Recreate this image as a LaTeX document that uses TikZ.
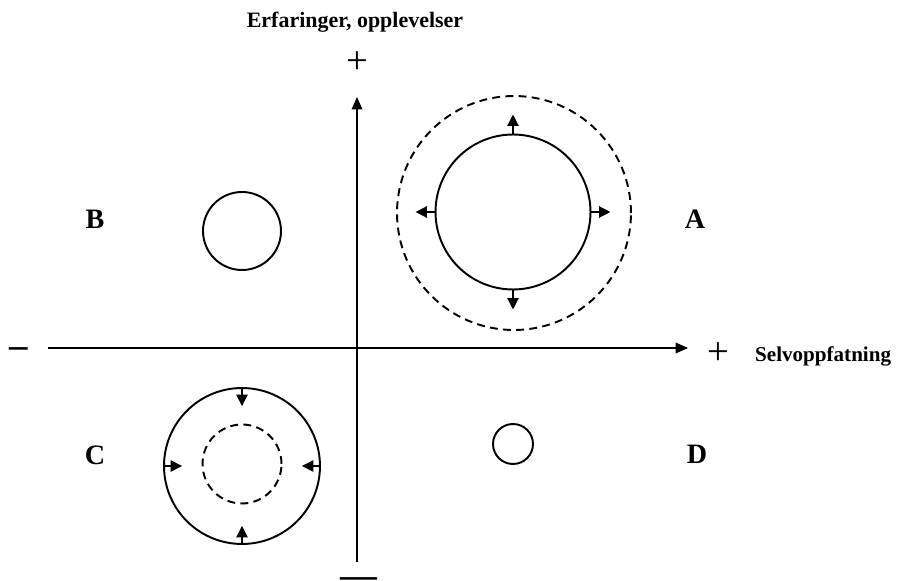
\documentclass[tikz,border=0pt]{standalone}
\usepackage{fontspec}
\setmainfont{Liberation Serif}
\usetikzlibrary{arrows.meta}

\begin{document}
\begin{tikzpicture}[x=0.02cm,y=-0.02cm,
  ring/.style={draw,circle,line width=1.1pt,inner sep=0pt},
  dashring/.style={ring,dash pattern=on 4.5pt off 3pt},
  axis/.style={-{Triangle[length=7pt,width=6pt]},line width=0.8pt},
  push/.style={-{Triangle[length=6.5pt,width=6.5pt]},line width=0.8pt},
  quad/.style={font=\fontsize{16}{18}\selectfont\bfseries},
  title/.style={font=\fontsize{12.5}{14}\selectfont\bfseries},
  sign/.style={font=\fontsize{22}{22}\selectfont}
]
\useasboundingbox (0,0) rectangle (904,581);
% axes
\coordinate (xl) at (48,348);
\coordinate (xr) at (688,348);
\coordinate (yb) at (357,562);
\coordinate (yt) at (357,97);
\draw[axis] (xl) -- (xr);
\draw[axis] (yb) -- (yt);
\node[title] (ylab) at (355,22) {Erfaringer, opplevelser};
\node[sign] (yplus) at (357,63) {+};
\node[sign] (xplus) at (718,354) {+};
\node[title,font=\fontsize{12}{14}\selectfont\bfseries,anchor=west] (xlab) at (749,356) {Selvoppfatning};
\node[font=\fontsize{21}{21}\selectfont\bfseries] (xminus) at (19,353) {–};
\node[font=\fontsize{21}{21}\selectfont\bfseries] (yminus) at (359,583) {—};
% quadrants
\node[quad] (qa) at (695,219) {A};
\node[quad] (qb) at (95,219) {B};
\node[quad] (qc) at (95,455) {C};
\node[quad] (qd) at (697,454) {D};
% A: growing
\node[dashring,minimum size=4.68cm] (ra) at (514,213) {};
\node[ring,minimum size=3.1cm] (ca) at (513,212) {};
\foreach \a/\ang in {north/90,south/270,east/0,west/180}
  \draw[push] (ca.\a) -- ++(\ang:0.38cm);
% B
\node[ring,minimum size=1.56cm] (cb) at (242,231) {};
% C: shrinking
\node[ring,minimum size=3.12cm] (cc) at (242,466) {};
\node[dashring,minimum size=1.58cm] (rc) at (242,464) {};
\foreach \a/\ang in {north/270,south/90,east/180,west/0}
  \draw[push] (cc.\a) -- ++(\ang:0.38cm);
% D
\node[ring,minimum size=0.8cm] (cd) at (513,444) {};
\end{tikzpicture}
\end{document}
